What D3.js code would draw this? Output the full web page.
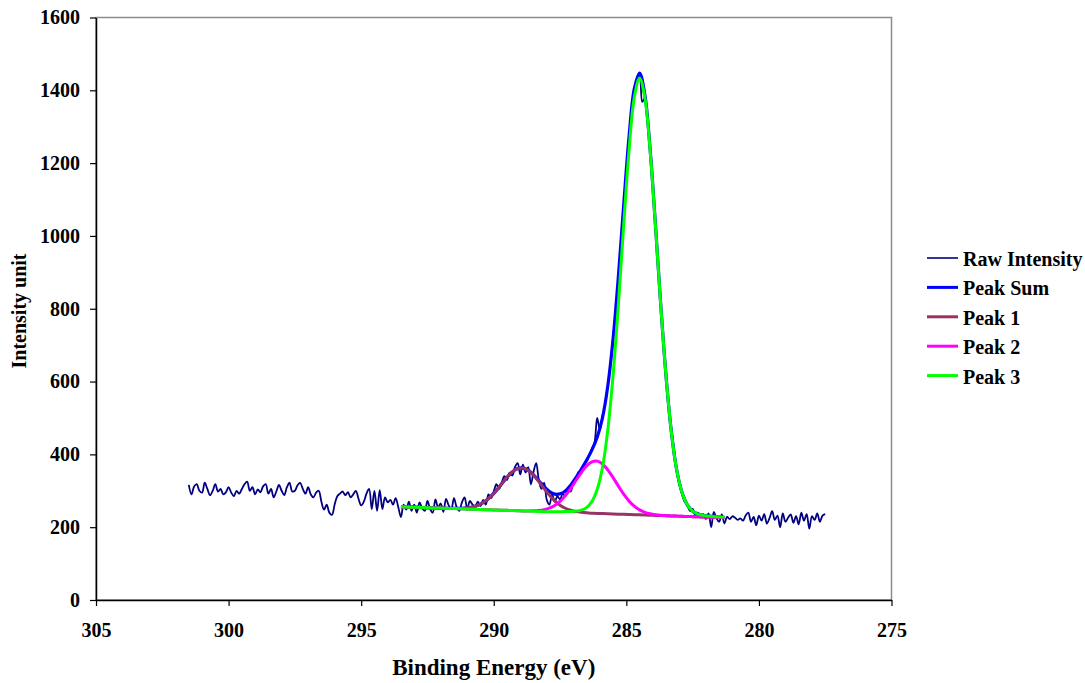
<!DOCTYPE html>
<html>
<head>
<meta charset="utf-8">
<script src="https://cdn.jsdelivr.net/npm/d3@7"></script>
<style>
  body { margin: 0; background: #fff; }
  text { font-family: "Liberation Serif", "Times New Roman", serif; font-weight: bold; }
</style>
</head>
<body>
<div id="chart"></div>
<script>
// Axis ticks
var xTicks = [305, 300, 295, 290, 285, 280, 275];
var yTicks = [0, 200, 400, 600, 800, 1000, 1200, 1400, 1600];

// Raw spectrum (binding energy in eV, intensity)
var rawEnergy = [
  301.5,301.4,301.3,301.2,301.1,301.0,300.9,300.8,300.7,300.6,
  300.5,300.4,300.3,300.2,300.1,300.0,299.9,299.8,299.7,299.6,
  299.5,299.4,299.3,299.2,299.1,299.0,298.9,298.8,298.7,298.6,
  298.5,298.4,298.3,298.2,298.1,298.0,297.9,297.8,297.7,297.6,
  297.5,297.4,297.3,297.2,297.1,297.0,296.9,296.8,296.7,296.6,
  296.5,296.4,296.3,296.2,296.1,296.0,295.9,295.8,295.7,295.6,
  295.5,295.4,295.3,295.2,295.1,295.0,294.9,294.8,294.7,294.6,
  294.5,294.4,294.3,294.2,294.1,294.0,293.9,293.8,293.7,293.6,
  293.5,293.4,293.3,293.2,293.1,293.0,292.9,292.8,292.7,292.6,
  292.5,292.4,292.3,292.2,292.1,292.0,291.9,291.8,291.7,291.6,
  291.5,291.4,291.3,291.2,291.1,291.0,290.9,290.8,290.7,290.6,
  290.5,290.4,290.3,290.2,290.1,290.0,289.9,289.8,289.7,289.6,
  289.5,289.4,289.3,289.2,289.1,289.0,288.9,288.8,288.7,288.6,
  288.5,288.4,288.3,288.2,288.1,288.0,287.9,287.8,287.7,287.6,
  287.5,287.4,287.3,287.2,287.1,287.0,286.9,286.8,286.7,286.6,
  286.5,286.4,286.3,286.2,286.1,286.0,285.9,285.8,285.7,285.6,
  285.5,285.4,285.3,285.2,285.1,285.0,284.9,284.8,284.7,284.6,
  284.5,284.4,284.3,284.2,284.1,284.0,283.9,283.8,283.7,283.6,
  283.5,283.4,283.3,283.2,283.1,283.0,282.9,282.8,282.7,282.6,
  282.5,282.4,282.3,282.2,282.1,282.0,281.9,281.8,281.7,281.6,
  281.5,281.4,281.3,281.2,281.1,281.0,280.9,280.8,280.7,280.6,
  280.5,280.4,280.3,280.2,280.1,280.0,279.9,279.8,279.7,279.6,
  279.5,279.4,279.3,279.2,279.1,279.0,278.9,278.8,278.7,278.6,
  278.5,278.4,278.3,278.2,278.1,278.0,277.9,277.8,277.7,277.6,
  277.5];

var rawIntensity = [
  316,290,312,318,300,295,322,305,288,300,
  318,298,305,290,296,310,295,285,300,292,
  305,318,325,300,310,290,304,296,312,318,
  292,305,282,298,316,300,288,310,322,298,
  300,315,322,305,292,310,290,282,295,300,
  270,248,262,240,234,262,285,292,298,288,
  296,282,290,300,278,260,270,292,305,250,
  300,245,302,250,282,268,275,262,280,255,
  228,262,248,270,245,262,240,268,252,245,
  272,250,240,276,255,265,242,278,260,250,
  280,255,245,268,282,250,272,262,258,270,
  258,275,262,290,280,298,318,305,322,340,
  330,350,342,365,376,345,372,350,365,318,
  352,376,330,305,322,275,262,290,270,285,
  276,292,285,305,298,322,330,352,348,372,
  380,398,415,432,500,468,505,538,590,648,
  720,795,885,980,1080,1175,1265,1340,1398,1430,
  1440,1368,1380,1315,1228,1130,1022,915,805,702,
  610,528,470,412,355,318,292,270,262,245,
  250,232,240,228,236,222,238,200,242,225,
  215,235,210,228,222,230,226,220,224,218,
  232,240,215,228,205,232,218,236,210,225,
  244,220,232,200,238,215,226,235,212,230,
  208,240,218,236,196,230,220,238,215,232,
  236];

// Fitted curves (each peak sits on the background)
var fitEnergy = [
  293.5,293.3,293.1,292.9,292.7,292.5,292.3,292.1,291.9,291.7,
  291.5,291.3,291.1,290.9,290.7,290.5,290.3,290.1,289.9,289.7,
  289.5,289.3,289.1,288.9,288.7,288.5,288.3,288.1,287.9,287.7,
  287.5,287.3,287.1,286.9,286.7,286.5,286.3,286.1,285.9,285.7,
  285.5,285.3,285.1,284.9,284.7,284.5,284.3,284.1,283.9,283.7,
  283.5,283.3,283.1,282.9,282.7,282.5,282.3,282.1,281.9,281.7,
  281.5,281.3];

var peakSum = [
  256.0,255.5,255.0,254.5,254.0,253.5,253.0,252.6,252.1,251.6,
  251.5,251.6,252.3,254.0,257.4,263.3,272.5,285.2,301.1,319.2,
  337.0,351.8,360.9,362.4,356.5,343.9,327.7,311.2,298.1,290.9,
  291.7,299.6,315.3,335.9,359.1,383.9,411.7,447.0,500.2,587.4,
  717.0,888.5,1084.5,1270.8,1403.8,1447.5,1386.9,1235.4,1028.0,808.4,
  612.5,460.7,356.9,295.4,261.4,243.9,236.0,232.5,230.5,229.0,
  228.5,227.0];

var peak1 = [
  256.0,255.5,255.0,254.5,254.0,253.5,253.0,252.6,252.1,251.6,
  251.5,251.6,252.3,254.0,257.4,263.3,272.5,285.2,301.1,319.2,
  337.0,351.8,360.9,362.4,356.0,342.7,325.1,305.8,287.6,272.2,
  260.3,252.0,246.4,242.9,240.8,239.4,238.5,237.8,237.3,236.8,
  236.3,235.8,235.3,234.9,234.4,233.9,233.4,232.9,232.4,231.9,
  231.4,230.9,230.4,229.9,229.4,228.9,228.5,228.0,227.5,227.0,
  226.5,226.0];

var peak2 = [
  256.0,255.5,255.0,254.5,254.0,253.5,253.0,252.6,252.1,251.6,
  251.1,250.6,250.1,249.6,249.1,248.6,248.1,247.6,247.1,246.7,
  246.2,245.7,245.2,244.7,244.7,244.9,245.8,248.1,252.4,259.7,
  270.9,286.6,306.2,328.3,350.1,368.3,379.5,381.5,373.7,357.6,
  336.2,312.8,290.7,272.1,257.7,247.5,240.8,236.7,234.2,232.7,
  231.7,230.9,230.4,229.9,229.4,228.9,228.5,228.0,227.5,227.0,
  226.5,226.0];

var peak3 = [
  256.0,255.5,255.0,254.5,254.0,253.5,253.0,252.6,252.1,251.6,
  251.1,250.6,250.1,249.6,249.1,248.6,248.1,247.6,247.1,246.7,
  246.2,245.7,245.2,244.7,244.2,243.7,243.2,242.7,242.5,242.4,
  242.6,242.8,243.3,244.3,246.8,253.8,270.3,303.3,363.8,466.6,
  617.1,811.5,1029.1,1233.6,1380.5,1433.9,1379.5,1231.6,1026.2,807.6,
  612.2,460.7,356.9,295.4,261.4,243.9,236.0,232.5,230.5,229.0,
  228.5,227.0];

var seriesNames = ["Raw Intensity", "Peak Sum", "Peak 1", "Peak 2", "Peak 3"];

// Dimensions
var width = 1085;
var height = 683;
var plot = {left: 96, right: 891.5, top: 17.5, bottom: 600};

var svg = d3.select("#chart").append("svg")
    .attr("width", width)
    .attr("height", height);

var x = d3.scaleLinear().domain([305, 275]).range([plot.left, plot.right]);
var y = d3.scaleLinear().domain([0, 1600]).range([plot.bottom, plot.top]);

// Plot area frame (grey top and right edges)
svg.append("rect")
    .attr("x", plot.left)
    .attr("y", plot.top)
    .attr("width", plot.right - plot.left)
    .attr("height", plot.bottom - plot.top)
    .attr("fill", "none")
    .attr("stroke", "#8c8c8c")
    .attr("stroke-width", 1.5);

// Series styling
var series = [
  {name: seriesNames[0], xs: rawEnergy, ys: rawIntensity, color: "#000080", w: 1.8},
  {name: seriesNames[1], xs: fitEnergy, ys: peakSum, color: "#0000ff", w: 3.2},
  {name: seriesNames[2], xs: fitEnergy, ys: peak1, color: "#993366", w: 3},
  {name: seriesNames[3], xs: fitEnergy, ys: peak2, color: "#ff00ff", w: 3},
  {name: seriesNames[4], xs: fitEnergy, ys: peak3, color: "#00ff00", w: 3}
];

var line = d3.line()
    .x(d => x(d[0]))
    .y(d => y(d[1]))
    .curve(d3.curveCatmullRom.alpha(0.5));

svg.append("g")
    .selectAll("path")
    .data(series)
    .enter()
    .append("path")
    .attr("d", s => line(s.xs.map((e, i) => [e, s.ys[i]])))
    .attr("fill", "none")
    .attr("stroke", s => s.color)
    .attr("stroke-width", s => s.w)
    .attr("stroke-linejoin", "round");

// Axes
var yAxis = svg.append("g")
    .attr("transform", "translate(" + plot.left + ",0)")
    .call(d3.axisLeft(y).tickValues(yTicks).tickFormat(d3.format("d"))
          .tickSize(6).tickSizeOuter(0).tickPadding(10));

var xAxis = svg.append("g")
    .attr("transform", "translate(0," + plot.bottom + ")")
    .call(d3.axisBottom(x).tickValues(xTicks).tickFormat(d3.format("d"))
          .tickSize(6).tickSizeOuter(0).tickPadding(17));

[xAxis, yAxis].forEach(function(g) {
    g.select(".domain").attr("stroke", "#000").attr("stroke-width", 1.5);
    g.selectAll(".tick line").attr("stroke", "#000").attr("stroke-width", 1.2);
    g.selectAll(".tick text")
        .attr("fill", "#000")
        .style("font-family", "'Liberation Serif', 'Times New Roman', serif")
        .style("font-weight", "bold")
        .style("font-size", "20px");
});

// Axis titles
svg.append("text")
    .attr("x", (plot.left + plot.right) / 2)
    .attr("y", 675)
    .attr("text-anchor", "middle")
    .style("font-size", "23px")
    .text("Binding Energy (eV)");

svg.append("text")
    .attr("transform", "translate(26," + 311 + ")rotate(-90)")
    .attr("text-anchor", "middle")
    .style("font-size", "20px")
    .text("Intensity unit");

// Legend
var legend = svg.append("g")
    .attr("transform", "translate(927,258)")
    .selectAll("g")
    .data(series)
    .enter()
    .append("g")
    .attr("transform", (d, i) => "translate(0," + (i * 29.4) + ")");

legend.append("line")
    .attr("x1", 0)
    .attr("x2", 31)
    .attr("stroke", d => d.color)
    .attr("stroke-width", (d, i) => i === 0 ? 1.6 : 3);

legend.append("text")
    .attr("x", 36)
    .attr("y", 8)
    .style("font-size", "20px")
    .text(d => d.name);
</script>
</body>
</html>
